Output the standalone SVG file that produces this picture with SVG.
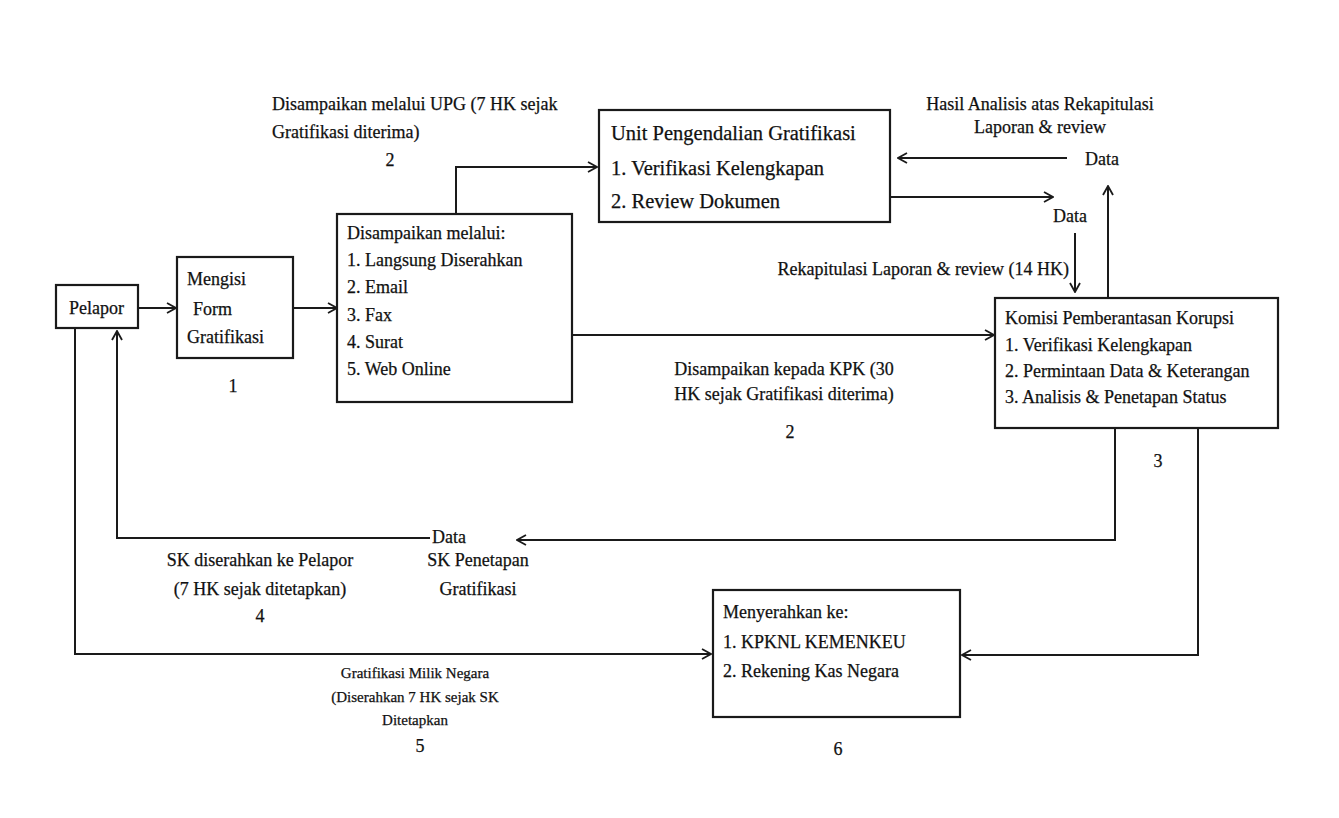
<svg xmlns="http://www.w3.org/2000/svg" width="1339" height="818" viewBox="0 0 1339 818">
<style>
.box{fill:#fff;stroke:#1a1a1a;stroke-width:2.2}
.ln{fill:none;stroke:#1a1a1a;stroke-width:2}
text{font-family:"Liberation Serif","Times New Roman",serif;fill:#111;stroke:#111;stroke-width:0.25}
.t20{font-size:20.5px}
.t18{font-size:18px}
.t15{font-size:15px}
.c{text-anchor:middle}
</style>
<defs>
<marker id="ah" viewBox="0 0 12 12" refX="11" refY="6" markerWidth="12" markerHeight="12" markerUnits="userSpaceOnUse" orient="auto">
<path d="M2,1 L11,6 L2,11" fill="none" stroke="#1a1a1a" stroke-width="1.8"/>
</marker>
</defs>
<rect width="1339" height="818" fill="#fff"/>

<g id="connectors">
<path class="ln" d="M138,308 H176" marker-end="url(#ah)"/>
<path class="ln" d="M293,308 H337" marker-end="url(#ah)"/>
<path class="ln" d="M456,214 V167 H597" marker-end="url(#ah)"/>
<path class="ln" d="M572,335 H994" marker-end="url(#ah)"/>
<path class="ln" d="M1067,158 H898" marker-end="url(#ah)"/>
<path class="ln" d="M890,197 H1053" marker-end="url(#ah)"/>
<path class="ln" d="M1075,233 V292" marker-end="url(#ah)"/>
<path class="ln" d="M1108,297 V186" marker-end="url(#ah)"/>
<path class="ln" d="M1115,428 V540 H517" marker-end="url(#ah)"/>
<path class="ln" d="M430,538 H117 V331" marker-end="url(#ah)"/>
<path class="ln" d="M75,328 V654 H711" marker-end="url(#ah)"/>
<path class="ln" d="M1198,428 V655 H962" marker-end="url(#ah)"/>
</g>

<g id="pelapor">
<rect class="box" x="56" y="285" width="82" height="43"/>
<text class="t18" x="69" y="314">Pelapor</text>
</g>

<g id="mengisi">
<rect class="box" x="177" y="257" width="116" height="101"/>
<text class="t18" x="187" y="285">Mengisi</text>
<text class="t18" x="193" y="315">Form</text>
<text class="t18" x="187" y="343">Gratifikasi</text>
<text class="t18 c" x="233" y="392">1</text>
</g>

<g id="disampaikan">
<rect class="box" x="337" y="214" width="235" height="188"/>
<text class="t18" x="347" y="239">Disampaikan melalui:</text>
<text class="t18" x="347" y="266">1. Langsung Diserahkan</text>
<text class="t18" x="347" y="293">2. Email</text>
<text class="t18" x="347" y="321">3. Fax</text>
<text class="t18" x="347" y="348">4. Surat</text>
<text class="t18" x="347" y="375">5. Web Online</text>
</g>

<g id="upg">
<rect class="box" x="599" y="110" width="291" height="112"/>
<text class="t20" x="611" y="140">Unit Pengendalian Gratifikasi</text>
<text class="t20" x="611" y="175">1. Verifikasi Kelengkapan</text>
<text class="t20" x="611" y="208">2. Review Dokumen</text>
</g>

<g id="kpk">
<rect class="box" x="995" y="298" width="283" height="130"/>
<text class="t18" x="1005" y="324">Komisi Pemberantasan Korupsi</text>
<text class="t18" x="1005" y="351">1. Verifikasi Kelengkapan</text>
<text class="t18" x="1005" y="377">2. Permintaan Data &amp; Keterangan</text>
<text class="t18" x="1005" y="403">3. Analisis &amp; Penetapan Status</text>
<text class="t18 c" x="1158" y="467">3</text>
</g>

<g id="menyerahkan">
<rect class="box" x="713" y="590" width="247" height="127"/>
<text class="t18" x="723" y="618">Menyerahkan ke:</text>
<text class="t18" x="723" y="648">1. KPKNL KEMENKEU</text>
<text class="t18" x="723" y="677">2. Rekening Kas Negara</text>
<text class="t18 c" x="838" y="755">6</text>
</g>

<g id="labels">
<text class="t18" x="272" y="110">Disampaikan melalui UPG (7 HK sejak</text>
<text class="t18" x="272" y="138">Gratifikasi  diterima)</text>
<text class="t18 c" x="390" y="166">2</text>

<text class="t18 c" x="1040" y="110">Hasil Analisis atas Rekapitulasi</text>
<text class="t18 c" x="1040" y="133">Laporan &amp; review</text>
<text class="t18 c" x="1102" y="165">Data</text>
<text class="t18 c" x="1070" y="222">Data</text>
<text class="t18" x="1069" y="275" text-anchor="end">Rekapitulasi Laporan &amp; review (14 HK)</text>

<text class="t18 c" x="784" y="375">Disampaikan kepada KPK  (30</text>
<text class="t18 c" x="784" y="400">HK sejak Gratifikasi  diterima)</text>
<text class="t18 c" x="790" y="438">2</text>

<text class="t18 c" x="449" y="543">Data</text>
<text class="t18 c" x="478" y="566">SK Penetapan</text>
<text class="t18 c" x="478" y="595">Gratifikasi</text>
<text class="t18 c" x="260" y="566">SK diserahkan ke Pelapor</text>
<text class="t18 c" x="260" y="595">(7 HK sejak ditetapkan)</text>
<text class="t18 c" x="260" y="622">4</text>

<text class="t15 c" x="415" y="678">Gratifikasi Milik Negara</text>
<text class="t15 c" x="415" y="702">(Diserahkan 7 HK sejak SK</text>
<text class="t15 c" x="415" y="725">Ditetapkan</text>
<text class="t18 c" x="420" y="752">5</text>
</g>
</svg>
